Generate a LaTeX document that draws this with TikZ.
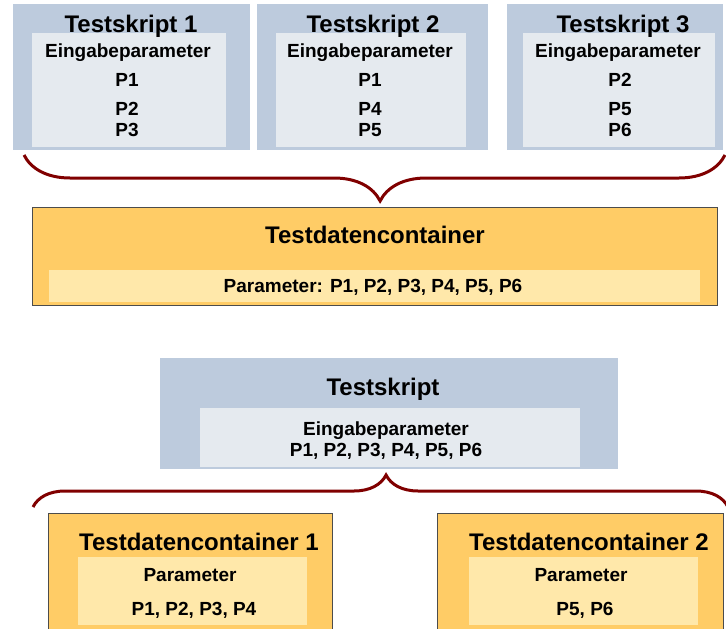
\documentclass[tikz,border=0pt]{standalone}
\usepackage{fontspec}
\setmainfont{Liberation Sans}
\usepackage{tikz}
\usetikzlibrary{decorations.pathreplacing}
\definecolor{scriptblue}{HTML}{BDCBDD}
\definecolor{paramgray}{HTML}{E5EAEF}
\definecolor{containerorange}{HTML}{FFCC66}
\definecolor{paramyellow}{HTML}{FFE8AA}
\definecolor{bracered}{HTML}{800000}

\begin{document}
\begin{tikzpicture}[x=1pt,y=-1pt,
		box/.style={rectangle,inner sep=0pt,outer sep=0pt},
		script/.style={box,fill=scriptblue},
		scriptin/.style={box,fill=paramgray},
		container/.style={box,fill=containerorange,draw=black!70,line width=1pt},
		containerin/.style={box,fill=paramyellow},
		headtext/.style={anchor=base,font=\fontsize{24}{28}\selectfont\bfseries},
		itemtext/.style={anchor=base,font=\fontsize{19}{22}\selectfont\bfseries},
		curly/.style={draw=bracered,line width=3pt,decorate,decoration={brace,aspect=0.508,amplitude=#1}}]
			\useasboundingbox (0,0) rectangle (726,629);
			\node[script,      minimum width=237, minimum height=146] (ts1)   at (131.5,77) {};
			\node[scriptin,    minimum width=194, minimum height=114] (ts1in) at (129,90)   {};
			\node[script,      minimum width=231, minimum height=146] (ts2)   at (372.5,77) {};
			\node[scriptin,    minimum width=190, minimum height=114] (ts2in) at (371,90)   {};
			\node[script,      minimum width=216, minimum height=146] (ts3)   at (615,77)   {};
			\node[scriptin,    minimum width=192, minimum height=114] (ts3in) at (619,90)   {};
			\node[container,   minimum width=685, minimum height=98]  (tdc)   at (374.5,256) {};
			\node[containerin, minimum width=651, minimum height=32]  (tdcin) at (374.5,286) {};
			\node[script,      minimum width=458, minimum height=111] (ts)    at (389,413.5) {};
			\node[scriptin,    minimum width=380, minimum height=59]  (tsin)  at (390,437.5) {};
			\node[container,   minimum width=284, minimum height=127] (tdc1)  at (190,576.5) {};
			\node[containerin, minimum width=229, minimum height=68]  (tdc1in) at (192.5,591) {};
			\node[container,   minimum width=286, minimum height=127] (tdc2)  at (580,576.5) {};
			\node[containerin, minimum width=229, minimum height=68]  (tdc2in) at (583.5,591) {};
			\node[headtext] (ts1head) at (131,32) {Testskript 1};
			\node[itemtext] (ts1in1)  at (128,57) {Eingabeparameter};
			\node[itemtext] (ts1p1)   at (127,86) {P1};
			\node[itemtext] (ts1p2)   at (127,115) {P2};
			\node[itemtext] (ts1p3)   at (127,136) {P3};
			\node[headtext] (ts2head) at (373,32) {Testskript 2};
			\node[itemtext] (ts2in1)  at (370,57) {Eingabeparameter};
			\node[itemtext] (ts2p1)   at (370,86) {P1};
			\node[itemtext] (ts2p4)   at (370,115) {P4};
			\node[itemtext] (ts2p5)   at (370,136) {P5};
			\node[headtext] (ts3head) at (623,32) {Testskript 3};
			\node[itemtext] (ts3in1)  at (618,57) {Eingabeparameter};
			\node[itemtext] (ts3p2)   at (620,86) {P2};
			\node[itemtext] (ts3p5)   at (620,115) {P5};
			\node[itemtext] (ts3p6)   at (620,136) {P6};
			\node[headtext] (tdchead) at (375,243) {Testdatencontainer};
			\node[itemtext] (tdcpar)  at (373,292) {Parameter: P1, P2, P3, P4, P5, P6};
			\node[headtext] (tshead)  at (383,395) {Testskript};
			\node[itemtext] (tsin1)   at (386,435) {Eingabeparameter};
			\node[itemtext] (tspar)   at (386,456) {P1, P2, P3, P4, P5, P6};
			\node[headtext] (tdc1head) at (199,550) {Testdatencontainer 1};
			\node[itemtext] (tdc1in1)  at (190,581) {Parameter};
			\node[itemtext] (tdc1par)  at (194,615) {P1, P2, P3, P4};
			\node[headtext] (tdc2head) at (589,550) {Testdatencontainer 2};
			\node[itemtext] (tdc2in1)  at (581,581) {Parameter};
			\node[itemtext] (tdc2par)  at (585,615) {P5, P6};
			\coordinate (b1l) at (24,155);
			\coordinate (b1r) at (725,155);
			\coordinate (b2l) at (33,507);
			\coordinate (b2r) at (728,507);
			\draw[curly=46,decoration={mirror}] (b1l) -- (b1r);
			\draw[curly=32] (b2l) -- (b2r);
		\end{tikzpicture}
\end{document}
